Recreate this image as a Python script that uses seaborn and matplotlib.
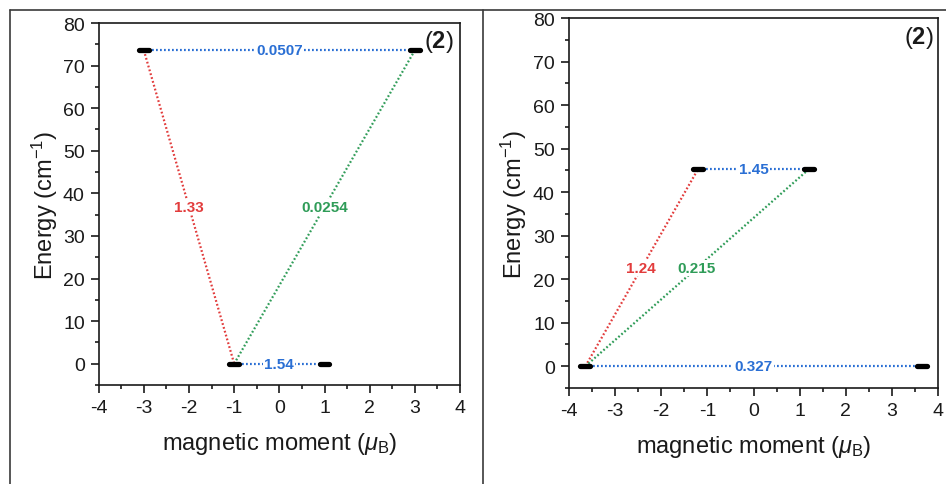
import matplotlib
matplotlib.use("Agg")
import matplotlib.pyplot as plt
import seaborn as sns
import pandas as pd
import numpy as np
from matplotlib.ticker import MultipleLocator
from matplotlib.lines import Line2D

# ---------------- data ----------------
# left panel: energy levels (moment in muB, energy in cm-1)
left_moment = [-1.0, 1.0, -3.0, 3.0]
left_energy = [0.0, 0.0, 73.6, 73.6]
# transitions between levels (indices into the level arrays)
left_from = [0, 2, 2, 0]
left_to = [1, 3, 0, 3]
left_values = ["1.54", "0.0507", "1.33", "0.0254"]
left_kind = ["qtm", "qtm", "orbach", "raman"]
left_label_energy = [0.0, 73.6, 36.7, 36.7]

# right panel
right_moment = [-3.64, 3.64, -1.2, 1.2]
right_energy = [0.0, 0.0, 45.3, 45.3]
right_from = [0, 2, 0, 0]
right_to = [1, 3, 2, 3]
right_values = ["0.327", "1.45", "1.24", "0.215"]
right_kind = ["qtm", "qtm", "orbach", "raman"]
right_label_energy = [0.0, 45.3, 22.5, 22.5]

panel_tag = "2"
x_ticks = [-4, -3, -2, -1, 0, 1, 2, 3, 4]
y_ticks = [0, 10, 20, 30, 40, 50, 60, 70, 80]
x_label = r"magnetic moment ($\mu_\mathrm{B}$)"
y_label = r"Energy (cm$^{\mathrm{-1}}$)"

# ---------------- style ----------------
sns.set_style("ticks")
plt.rcParams["font.family"] = ["Liberation Sans", "DejaVu Sans"]
plt.rcParams["mathtext.fontset"] = "custom"
plt.rcParams["mathtext.rm"] = "Liberation Sans"
plt.rcParams["mathtext.it"] = "Liberation Sans:italic"
plt.rcParams["mathtext.bf"] = "Liberation Sans:bold"
plt.rcParams["axes.unicode_minus"] = False

palette = {"qtm": "#2a6fd4", "orbach": "#e23c3c", "raman": "#2f9c58"}
dot_style = (0, (0.8, 1.0))
LEVEL_HALF = 0.11
INK = "#1a1a1a"

fig = plt.figure(figsize=(9.46, 4.85), dpi=100)
axL = fig.add_axes([0.1043, 0.2041, 0.3820, 0.7464])
axR = fig.add_axes([0.6012, 0.1979, 0.3907, 0.7629])


def draw_panel(ax, moment, energy, t_from, t_to, values, kinds, lab_e, tag_xy, ypad):
    # transitions
    rows = []
    for k, (a, b) in enumerate(zip(t_from, t_to)):
        rows.append(dict(seg=k, kind=kinds[k], moment=moment[a], energy=energy[a]))
        rows.append(dict(seg=k, kind=kinds[k], moment=moment[b], energy=energy[b]))
    df = pd.DataFrame(rows)
    sns.lineplot(data=df, x="moment", y="energy", units="seg", hue="kind",
                 palette=palette, estimator=None, sort=False, legend=False,
                 ax=ax, linewidth=1.6, linestyle=dot_style, zorder=2)
    # levels
    lv = []
    for k, (m, e) in enumerate(zip(moment, energy)):
        lv.append(dict(seg=k, moment=m - LEVEL_HALF, energy=e))
        lv.append(dict(seg=k, moment=m + LEVEL_HALF, energy=e))
    dlv = pd.DataFrame(lv)
    sns.lineplot(data=dlv, x="moment", y="energy", units="seg", color="black",
                 estimator=None, sort=False, legend=False, ax=ax,
                 linewidth=3.8, solid_capstyle="round", zorder=3)
    # rate labels
    for k, (a, b) in enumerate(zip(t_from, t_to)):
        x0, x1 = moment[a], moment[b]
        y0, y1 = energy[a], energy[b]
        if y0 == y1:
            xl = 0.5 * (x0 + x1)
        else:
            xl = x0 + (lab_e[k] - y0) / (y1 - y0) * (x1 - x0)
        ax.text(xl, lab_e[k], values[k], color=palette[kinds[k]],
                fontsize=11, fontweight="bold", ha="center", va="center",
                bbox=dict(facecolor="white", edgecolor="none", pad=0.8),
                zorder=4)
    ax.text(tag_xy[0], tag_xy[1], r"($\mathbf{%s}$)" % panel_tag,
            transform=ax.transAxes, fontsize=17, ha="right", va="center",
            color=INK)

    ax.set_xlim(-4, 4)
    ax.set_ylim(-5, 80)
    ax.set_xticks(x_ticks)
    ax.set_xticklabels([str(t) for t in x_ticks])
    ax.set_yticks(y_ticks)
    ax.set_yticklabels([str(t) for t in y_ticks])
    ax.xaxis.set_minor_locator(MultipleLocator(0.5))
    ax.yaxis.set_minor_locator(MultipleLocator(5))
    ax.tick_params(which="both", direction="out", top=False, right=False,
                   width=1.2, color=INK, labelcolor=INK, labelsize=14)
    ax.tick_params(which="major", length=6, pad=4)
    ax.tick_params(which="minor", length=3)
    for s in ax.spines.values():
        s.set_linewidth(1.2)
        s.set_color(INK)
        s.set_visible(True)
    ax.set_xlabel(x_label, fontsize=17, labelpad=10, color=INK)
    ax.set_ylabel(y_label, fontsize=17, labelpad=ypad, color=INK)


draw_panel(axL, left_moment, left_energy, left_from, left_to, left_values,
           left_kind, left_label_energy, (0.983, 0.950), 2)
draw_panel(axR, right_moment, right_energy, right_from, right_to, right_values,
           right_kind, right_label_energy, (0.9865, 0.949), 3)

# figure frame lines
frame_kw = dict(transform=fig.transFigure, color="#3a3a3a", linewidth=1.2)
fig.add_artist(Line2D([9.5 / 946, 1.0], [1 - 10.5 / 485, 1 - 10.5 / 485], **frame_kw))
fig.add_artist(Line2D([9.5 / 946, 9.5 / 946], [0.0, 1 - 10.5 / 485], **frame_kw))
fig.add_artist(Line2D([482.5 / 946, 482.5 / 946], [0.0, 1 - 10.5 / 485], **frame_kw))

fig.savefig("out.png", dpi=100)
